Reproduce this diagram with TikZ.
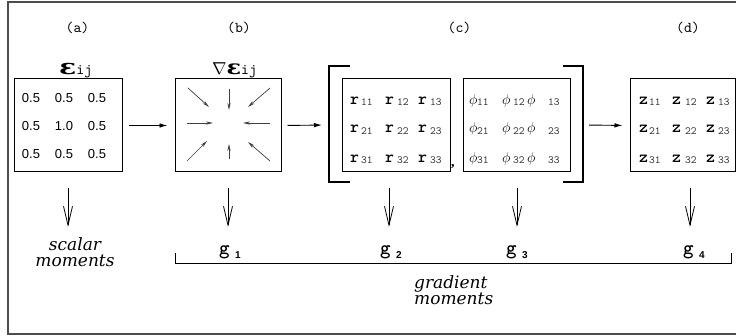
\documentclass[tikz,border=0pt]{standalone}
\usepackage{fontspec}
\setmainfont{Liberation Serif}
\setsansfont{Liberation Sans}
\newfontfamily\ctt{lmmono10-regular.otf}[BoldFont=lmmonolt10-bold.otf]
\newfontfamily\momentfont{DejaVu Serif}
\newfontfamily\greekfont{DejaVu Serif}
\usetikzlibrary{arrows.meta}

\tikzset{
  frame/.style={draw=black!70, line width=1.3pt},
  box/.style={draw, line width=1pt, inner sep=0pt},
  tag/.style={inner sep=0pt, font=\ctt\fontsize{15}{15}\selectfont},
  num/.style={inner sep=0pt, anchor=base, font=\sffamily\fontsize{13}{13}\selectfont},
  ent/.style={inner sep=0pt, anchor=base west, font=\ctt\bfseries\fontsize{17}{17}\selectfont},
  phient/.style={inner sep=0pt, anchor=base west, font=\fontsize{15}{15}\selectfont},
  idx/.style={inner sep=0pt, anchor=base west, font=\ctt\fontsize{11}{11}\selectfont, text=black!80},
  gname/.style={inner sep=0pt, anchor=base west, font=\ctt\bfseries\fontsize{20}{20}\selectfont},
  gidx/.style={inner sep=0pt, anchor=base west, font=\sffamily\bfseries\fontsize{10}{10}\selectfont},
  moment/.style={inner sep=0pt, align=center, font=\momentfont\itshape\fontsize{17}{16}\selectfont},
  flow/.style={line width=0.9pt, -{Latex[length=8pt,width=4.5pt]}},
  down/.style={line width=0.8pt, -{Straight Barb[length=19pt,width=9pt,line width=0.8pt]}},
  inner/.style={line width=0.7pt, draw=black!75, -{Stealth[length=7pt,width=3.2pt]}},
  bracket/.style={line width=1.2pt}
}

\begin{document}
\begin{tikzpicture}[x=1pt,y=-1pt]
\useasboundingbox (0,0) rectangle (736,336);

% outer frame (open on the right)
\draw[frame] (745,2) -- (8,2) -- (8,334) -- (745,334);

% column tags
\node[tag] (ta) at (77.5,28) {(a)};
\node[tag] (tb) at (239,28) {(b)};
\node[tag] (tc) at (459.5,28) {(c)};
\node[tag] (td) at (688,28) {(d)};

% titles above (a) and (b)
\node[inner sep=0pt, anchor=base west] (epsa) at (59,75)
  {\scalebox{1.35}[1]{\greekfont\bfseries\fontsize{21}{21}\selectfont ε}\ctt\fontsize{15}{15}\selectfont ij};
\node[inner sep=0pt, anchor=base west] (epsb) at (212,75)
  {\fontsize{18}{18}\selectfont$\nabla$\scalebox{1.2}[1]{\greekfont\bfseries\fontsize{20}{20}\selectfont ε}\ctt\fontsize{15}{15}\selectfont ij};

% boxes
\node[box, minimum width=108pt, minimum height=93pt] (a) at (68,125.5) {};
\node[box, minimum width=106pt, minimum height=93pt] (b) at (228,125.5) {};
\node[box, minimum width=108pt, minimum height=93pt] (r) at (396,125.5) {};
\node[box, minimum width=107pt, minimum height=93pt] (p) at (516.5,125.5) {};
\node[box, minimum width=105pt, minimum height=93pt] (z) at (682.5,125.5) {};

% scalar values
\foreach \i/\y in {1/103,3/159} {
  \foreach \j/\x in {1/31,2/64,3/97} {
    \node[num] (v\i\j) at (\x,\y) {0.5};
  }
}
\node[num] (v21) at (31,131) {0.5};
\node[num] (v22) at (64,131) {1.0};
\node[num] (v23) at (97,131) {0.5};

% gradient field pointing to the centre
\draw[inner] (188,88) -- (209,107);
\draw[inner] (229,89) -- (229,110);
\draw[inner] (270,88) -- (248,107);
\draw[inner] (187,123) -- (213,123);
\draw[inner] (270,123) -- (243,123);
\draw[inner] (187,161) -- (207,141);
\draw[inner] (229,159) -- (229,144);
\draw[inner] (270,161) -- (248,142);

% matrices r, phi, z
\foreach \i/\y in {1/104.5,2/133,3/162.5} {
  \foreach \j/\lx/\sx in {1/350/361,2/385/397,3/418/430} {
    \node[ent] (r\i\j) at (\lx,\y) {r};
    \node[idx] (rs\i\j) at (\sx,\y+1.5) {\i\j};
  }
  \foreach \j/\lx/\sx in {1/469/477,2/502/513,3/527/548} {
    \node[phient] (p\i\j) at (\lx,\y) {$\phi$};
    \node[idx] (ps\i\j) at (\sx,\y+1.5) {\i\j};
  }
  \foreach \j/\lx/\sx in {1/639/649,2/672/685,3/706/718} {
    \node[ent] (z\i\j) at (\lx,\y) {z};
    \node[idx] (zs\i\j) at (\sx,\y+1.5) {\i\j};
  }
}
\node[inner sep=0pt, anchor=base west, font=\bfseries\fontsize{14}{14}\selectfont] (comma) at (451,167) {,};

% brackets around (c)
\coordinate (brL) at (329,125);
\coordinate (brR) at (583,125);
\draw[bracket] (350,66) -- (329,66) -- (329,182) -- (350,182);
\draw[bracket] (563,66) -- (583,66) -- (583,182) -- (563,182);

% flow between stages
\draw[flow, shorten <=6pt, shorten >=7pt] (a.east) -- (b.west);
\draw[flow, shorten <=6pt, shorten >=7pt] (b.east) -- (brL);
\draw[flow, shorten <=6pt, shorten >=7pt] (brR) -- (z.west);

% outputs
\node[moment] (sm) at (75,252) {scalar\\moments};
\node[gname] (g1) at (219,255) {g};
\node[gidx] (g1s) at (235,259) {1};
\node[gname] (g2) at (380,255) {g};
\node[gidx] (g2s) at (396,259) {2};
\node[gname] (g3) at (506,255) {g};
\node[gidx] (g3s) at (522,259) {3};
\node[gname] (g4) at (683,255) {g};
\node[gidx] (g4s) at (699,259) {4};

\foreach \n/\x in {sa/68,sb/228,sr/389,sp/517,sz/690} {
  \coordinate (\n0) at (\x,188);
  \coordinate (\n1) at (\x,227);
  \draw[down] (\n0) -- (\n1);
}

% brace over the gradient moments
\draw[line width=1pt] (175,253) -- (175,264) -- (731,264) -- (731,253);
\node[inner sep=0pt, anchor=base west, align=left, font=\momentfont\itshape\fontsize{17}{15}\selectfont] (gm) at (414,305) {gradient\\moments};
\end{tikzpicture}
\end{document}
